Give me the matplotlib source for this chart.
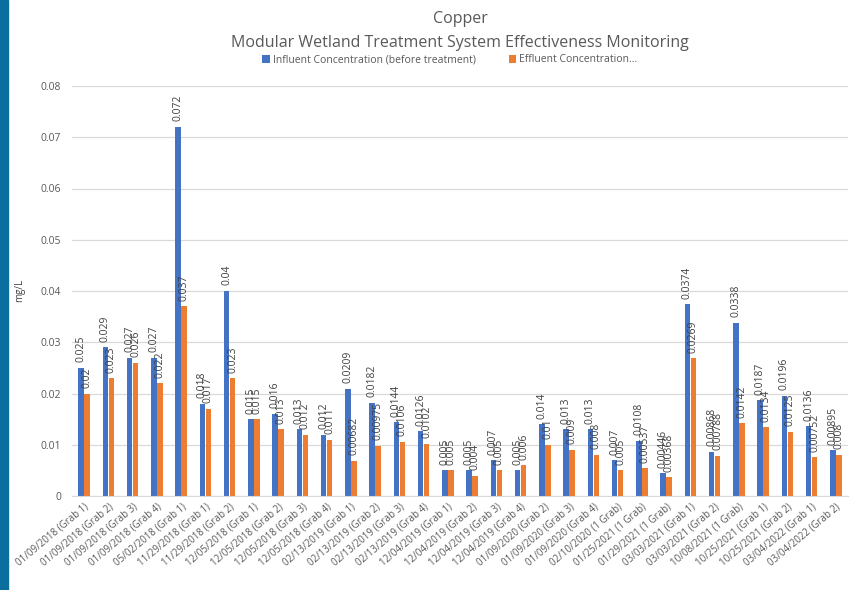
import matplotlib
matplotlib.use("Agg")
import numpy as np
from matplotlib import pyplot as plt
from matplotlib.patches import Rectangle

# data
dates = ["01/09/2018 (Grab 1)", "01/09/2018 (Grab 2)", "01/09/2018 (Grab 3)", "01/09/2018 (Grab 4)",
         "05/02/2018 (Grab 1)", "11/29/2018 (Grab 1)", "11/29/2018 (Grab 2)", "12/05/2018 (Grab 1)",
         "12/05/2018 (Grab 2)", "12/05/2018 (Grab 3)", "12/05/2018 (Grab 4)", "02/13/2019 (Grab 1)",
         "02/13/2019 (Grab 2)", "02/13/2019 (Grab 3)", "02/13/2019 (Grab 4)", "12/04/2019 (Grab 1)",
         "12/04/2019 (Grab 2)", "12/04/2019 (Grab 3)", "12/04/2019 (Grab 4)", "01/09/2020 (Grab 2)",
         "01/09/2020 (Grab 3)", "01/09/2020 (Grab 4)", "02/10/2020 (1 Grab)", "01/25/2021 (1 Grab)",
         "01/29/2021 (1 Grab)", "03/03/2021 (Grab 1)", "03/03/2021 (Grab 2)", "10/08/2021 (1 Grab)",
         "10/25/2021 (Grab 1)", "10/25/2021 (Grab 2)", "03/04/2022 (Grab 1)", "03/04/2022 (Grab 2)"]

influent = [0.025, 0.029, 0.027, 0.027, 0.072, 0.018, 0.04, 0.015, 0.016, 0.013, 0.012,
            0.0209, 0.0182, 0.0144, 0.0126, 0.005, 0.005, 0.007, 0.005, 0.014, 0.013, 0.013,
            0.007, 0.0108, 0.00446, 0.0374, 0.00868, 0.0338, 0.0187, 0.0196, 0.0136, 0.00895]

effluent = [0.02, 0.023, 0.026, 0.022, 0.037, 0.017, 0.023, 0.015, 0.013, 0.012, 0.011,
            0.00682, 0.00975, 0.0106, 0.0102, 0.005, 0.004, 0.005, 0.006, 0.01, 0.009, 0.008,
            0.005, 0.00537, 0.00368, 0.0269, 0.00788, 0.0142, 0.0134, 0.0125, 0.00752, 0.008]

yticks = [0, 0.01, 0.02, 0.03, 0.04, 0.05, 0.06, 0.07, 0.08]

plt.rcParams['font.family'] = ['Open Sans', 'DejaVu Sans']

BLUE = '#4472C4'
ORANGE = '#ED7D31'
GREY = '#595959'

fig = plt.figure(figsize=(8.5, 5.9), dpi=100)
ax = fig.add_axes([72/850, 1 - 496/590, 776/850, 410/590])

x = np.arange(len(dates))
w = 0.23
b1 = ax.bar(x - w/2 - 0.01, influent, w, color=BLUE, label="Influent Concentration (before treatment)")
b2 = ax.bar(x + w/2 + 0.01, effluent, w, color=ORANGE, label="Effluent Concentration...")

ax.bar_label(b1, labels=[f"{v:g}" for v in influent], rotation=90, padding=4,
             fontsize=7.5, color='#404040')
ax.bar_label(b2, labels=[f"{v:g}" for v in effluent], rotation=90, padding=4,
             fontsize=7.5, color='#404040')

ax.set_xlim(-0.5, len(dates) - 0.5)
ax.set_ylim(0, 0.08)
ax.set_yticks(yticks)
ax.set_yticklabels([f"{t:g}" for t in yticks], fontsize=7.5, color=GREY)
ax.set_xticks(x)
ax.set_xticklabels(dates, rotation=40, ha='right', rotation_mode='anchor',
                   fontsize=7, color=GREY)
ax.tick_params(length=0, pad=8)
ax.tick_params(axis='x', pad=4)
ax.grid(axis='y', color='#d9d9d9', linewidth=0.9)
ax.set_axisbelow(True)
for s in ['top', 'right', 'left']:
    ax.spines[s].set_visible(False)
ax.spines['bottom'].set_color('#d9d9d9')

fig.text(20/850, 1 - 290/590, "mg/L", rotation=90, fontsize=7, color='#404040',
         ha='center', va='center')
fig.text(460/850, 1 - 19/590, "Copper", fontsize=11.5, color=GREY, ha='center', va='center')
fig.text(460/850, 1 - 43/590, "Modular Wetland Treatment System Effectiveness Monitoring",
         fontsize=11.5, color=GREY, ha='center', va='center')
fig.legend(handles=[b1, b2], loc='center', bbox_to_anchor=(450/850, 1 - 60/590), ncol=2,
           frameon=False, fontsize=7.5, handlelength=0.7, handleheight=0.7,
           handletextpad=0.3, columnspacing=3.2, labelcolor=GREY)

# blue strip on the left edge
fig.patches.append(Rectangle((0, 0), 8/850, 1, transform=fig.transFigure,
                             color='#0a6e9f', zorder=10))

fig.savefig("out.png", dpi=100)
